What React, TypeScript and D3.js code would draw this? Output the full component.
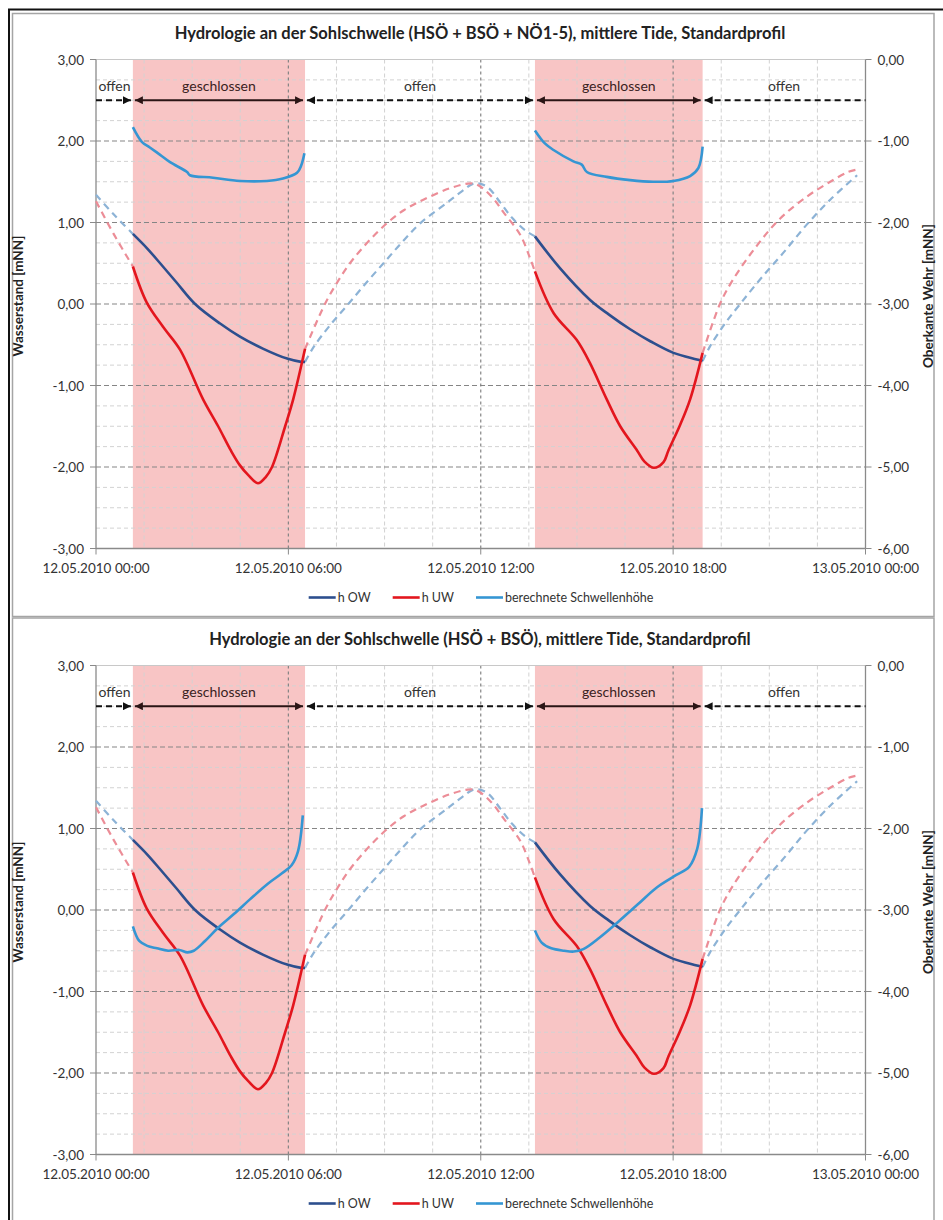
import React, { useEffect, useRef } from 'react';
import * as d3 from 'd3';

// time axis in hours from 12.05.2010 00:00
const hourTicks = [0, 6, 12, 18, 24];
const hourTickLabels = ['12.05.2010 00:00', '12.05.2010 06:00', '12.05.2010 12:00', '12.05.2010 18:00', '13.05.2010 00:00'];
const leftTicks = [3, 2, 1, 0, -1, -2, -3];
const rightTicks = [0, -1, -2, -3, -4, -5, -6];

// phases of the weir (open / closed)
const phaseBounds = [0, 1.15, 6.52, 13.69, 18.92, 24];
const phaseLabels = ['offen', 'geschlossen', 'offen', 'geschlossen', 'offen'];

const seriesNames = ['h OW', 'h UW', 'berechnete Schwellenhöhe'];
const titles = [
  'Hydrologie an der Sohlschwelle (HSÖ + BSÖ + NÖ1-5), mittlere Tide, Standardprofil',
  'Hydrologie an der Sohlschwelle (HSÖ + BSÖ), mittlere Tide, Standardprofil',
];

// water level upstream [hour, mNN]
const hOW = [
  [0, 1.34], [0.55, 1.1], [1.15, 0.86],
  [1.6, 0.68], [2.0, 0.5], [2.5, 0.27], [3.09, 0.0], [3.87, -0.24], [4.49, -0.4], [5.22, -0.55], [5.96, -0.67], [6.4, -0.71], [6.52, -0.71],
  [6.8, -0.52], [7.3, -0.26], [7.87, 0.0], [8.45, 0.27], [9.01, 0.52], [9.55, 0.76], [10.11, 0.99], [10.94, 1.24], [11.4, 1.38], [11.8, 1.48], [12.19, 1.44], [12.6, 1.25], [12.97, 1.06], [13.4, 0.9], [13.69, 0.83],
  [14.47, 0.44], [15.41, 0.05], [16.0, -0.13], [16.66, -0.31], [17.3, -0.46], [18.01, -0.6], [18.74, -0.68], [18.92, -0.7],
  [19.15, -0.52], [19.6, -0.25], [20.09, 0.0], [20.71, 0.3], [21.44, 0.63], [22.18, 0.98], [22.9, 1.28], [23.74, 1.58],
];

// water level downstream [hour, mNN]
const hUW = [
  [0, 1.26], [0.55, 0.86], [1.15, 0.46],
  [1.58, 0.02], [2.09, -0.28], [2.62, -0.56], [3.34, -1.17], [3.81, -1.5], [4.21, -1.8], [4.49, -1.98], [4.75, -2.1], [5.05, -2.2], [5.3, -2.12], [5.49, -2.0], [5.9, -1.5], [6.15, -1.17], [6.52, -0.55],
  [7.14, 0.0], [7.5, 0.25], [7.92, 0.5], [8.5, 0.77], [9.07, 0.99], [9.6, 1.15], [10.21, 1.28], [11.04, 1.42], [11.72, 1.48], [12.03, 1.43], [12.4, 1.29], [12.7, 1.13], [13.23, 0.85], [13.54, 0.56], [13.69, 0.4],
  [14.27, -0.11], [14.99, -0.44], [15.4, -0.72], [15.93, -1.17], [16.35, -1.5], [16.88, -1.8], [17.1, -1.93], [17.4, -2.01], [17.7, -1.94], [17.85, -1.8], [18.2, -1.5], [18.53, -1.17], [18.92, -0.6],
  [19.46, 0.0], [19.87, 0.3], [20.62, 0.72], [21.34, 1.05], [22.18, 1.32], [22.9, 1.5], [23.46, 1.62], [23.74, 1.65],
];

// calculated sill height, right axis [hour, mNN]
const schwelleTop = [
  [1.15, -0.83], [1.43, -1.01], [1.68, -1.08], [2.0, -1.17], [2.31, -1.26], [2.84, -1.38], [2.93, -1.42], [3.65, -1.45], [4.49, -1.49], [5.33, -1.49], [5.83, -1.46], [6.27, -1.39], [6.4, -1.3], [6.5, -1.15],
  [13.69, -0.87], [14.0, -1.03], [14.27, -1.11], [14.89, -1.25], [15.15, -1.29], [15.31, -1.38], [15.93, -1.44], [16.66, -1.48], [17.38, -1.5], [18.01, -1.49], [18.53, -1.43], [18.79, -1.33], [18.92, -1.07],
];
const schwelleBottom = [
  [1.15, -3.2], [1.35, -3.38], [1.6, -3.44], [1.9, -3.47], [2.25, -3.5], [2.6, -3.49], [2.85, -3.52], [3.05, -3.5], [3.4, -3.38], [3.8, -3.22], [4.3, -3.05], [4.8, -2.87], [5.35, -2.68], [5.8, -2.55], [6.1, -2.45], [6.3, -2.28], [6.45, -1.84],
  [13.69, -3.25], [13.9, -3.4], [14.2, -3.47], [14.6, -3.5], [14.9, -3.51], [15.2, -3.48], [15.7, -3.34], [16.3, -3.14], [16.9, -2.93], [17.5, -2.72], [18.1, -2.57], [18.5, -2.47], [18.75, -2.25], [18.9, -1.75],
];

const panels = [
  { title: titles[0], top: 59.5, frameTop: 13.5, frameBottom: 616.5, schwelle: schwelleTop },
  { title: titles[1], top: 665.5, frameTop: 618, frameBottom: 1230, schwelle: schwelleBottom },
];

const FONT = "Lato, 'Open Sans', sans-serif";
const plotH = 489;
const colOW = '#2d4f8e';
const colUW = '#e3161e';
const colSchwelle = '#3596d3';
const colOWdash = '#8db3d6';
const colUWdash = '#ec8d97';

const fmt = d3.formatLocale({ decimal: ',', thousands: '.', grouping: [3], currency: ['', '€'], minus: '-' }).format('.2f');

function drawPanel(svg, p) {
  const g = svg.append('g');
  const x = d3.scaleLinear().domain([0, 24]).range([96, 865.5]);
  const y = d3.scaleLinear().domain([-3, 3]).range([p.top + plotH, p.top]);
  const yR = d3.scaleLinear().domain([-6, 0]).range([p.top + plotH, p.top]);

  // chart area frame
  g.append('rect').attr('x', 12.5).attr('y', p.frameTop).attr('width', 921.5).attr('height', p.frameBottom - p.frameTop)
    .attr('fill', 'white').attr('stroke', '#a5a5a5').attr('stroke-width', 1.5);

  g.append('text').attr('x', 480).attr('y', p.top - 21).attr('text-anchor', 'middle')
    .attr('font-family', FONT).attr('font-weight', 'bold').attr('font-size', 16.5).attr('fill', '#222')
    .text(p.title);

  // closed periods
  const closed = [[phaseBounds[1], phaseBounds[2]], [phaseBounds[3], phaseBounds[4]]];
  g.selectAll('.closed').data(closed).join('rect').attr('class', 'closed')
    .attr('x', d => x(d[0])).attr('width', d => x(d[1]) - x(d[0]))
    .attr('y', y(3)).attr('height', y(-3) - y(3)).attr('fill', '#f8c5c5');

  // grid
  const minorY = d3.range(-3, 3.01, 0.25).filter(v => Math.abs(v - Math.round(v)) > 0.01);
  g.selectAll('.gminy').data(minorY).join('line').attr('class', 'gminy')
    .attr('x1', x(0)).attr('x2', x(24)).attr('y1', d => y(d)).attr('y2', d => y(d))
    .attr('stroke', '#d2d2d2').attr('stroke-dasharray', '4,3').attr('stroke-width', 1);
  const minorX = d3.range(1.5, 24, 1.5).filter(v => v % 6 !== 0);
  g.selectAll('.gminx').data(minorX).join('line').attr('class', 'gminx')
    .attr('x1', d => x(d)).attr('x2', d => x(d)).attr('y1', y(3)).attr('y2', y(-3))
    .attr('stroke', '#d2d2d2').attr('stroke-dasharray', '4,3').attr('stroke-width', 1);
  g.selectAll('.gmajy').data([2, 1, 0, -1, -2]).join('line').attr('class', 'gmajy')
    .attr('x1', x(0)).attr('x2', x(24)).attr('y1', d => y(d)).attr('y2', d => y(d))
    .attr('stroke', '#858585').attr('stroke-dasharray', '5,3').attr('stroke-width', 1.2);
  g.selectAll('.gmajx').data([6, 12, 18]).join('line').attr('class', 'gmajx')
    .attr('x1', d => x(d)).attr('x2', d => x(d)).attr('y1', y(3)).attr('y2', y(-3))
    .attr('stroke', '#858585').attr('stroke-dasharray', '3,3').attr('stroke-width', 1.2);
  g.append('line').attr('x1', x(0)).attr('x2', x(24)).attr('y1', y(3)).attr('y2', y(3)).attr('stroke', '#c8c8c8');

  // axes
  const axisCol = '#8a8a8a';
  g.append('line').attr('x1', x(0)).attr('x2', x(0)).attr('y1', y(3)).attr('y2', y(-3)).attr('stroke', axisCol).attr('stroke-width', 1.3);
  g.append('line').attr('x1', x(24)).attr('x2', x(24)).attr('y1', y(3)).attr('y2', y(-3)).attr('stroke', axisCol).attr('stroke-width', 1.3);
  g.append('line').attr('x1', x(0)).attr('x2', x(24)).attr('y1', y(-3)).attr('y2', y(-3)).attr('stroke', axisCol).attr('stroke-width', 1.3);
  g.selectAll('.tl').data(leftTicks).join('line').attr('class', 'tl')
    .attr('x1', x(0) - 6).attr('x2', x(0)).attr('y1', d => y(d)).attr('y2', d => y(d)).attr('stroke', axisCol);
  g.selectAll('.tr').data(rightTicks).join('line').attr('class', 'tr')
    .attr('x1', x(24)).attr('x2', x(24) + 6).attr('y1', d => yR(d)).attr('y2', d => yR(d)).attr('stroke', axisCol);
  g.selectAll('.tx').data(hourTicks).join('line').attr('class', 'tx')
    .attr('x1', d => x(d)).attr('x2', d => x(d)).attr('y1', y(-3)).attr('y2', y(-3) + 6).attr('stroke', axisCol);

  const tickFont = 13.5;
  g.selectAll('.ll').data(leftTicks).join('text').attr('class', 'll')
    .attr('x', x(0) - 12).attr('y', d => y(d) + 5).attr('text-anchor', 'end')
    .attr('font-family', FONT).attr('font-size', tickFont).attr('fill', '#333').text(d => fmt(d));
  g.selectAll('.lr').data(rightTicks).join('text').attr('class', 'lr')
    .attr('x', x(24) + 12).attr('y', d => yR(d) + 5).attr('text-anchor', 'start')
    .attr('font-family', FONT).attr('font-size', tickFont).attr('fill', '#333').text(d => fmt(d));
  g.selectAll('.lx').data(hourTicks).join('text').attr('class', 'lx')
    .attr('x', d => x(d)).attr('y', y(-3) + 24).attr('text-anchor', 'middle')
    .attr('font-family', FONT).attr('font-size', tickFont).attr('fill', '#333').text((d, i) => hourTickLabels[i]);

  const midY = (y(3) + y(-3)) / 2 - 8;
  g.append('text').attr('transform', `translate(23, ${midY}) rotate(-90)`).attr('text-anchor', 'middle')
    .attr('font-family', FONT).attr('font-weight', 'bold').attr('font-size', 13.5).attr('fill', '#222').text('Wasserstand [mNN]');
  g.append('text').attr('transform', `translate(933, ${midY}) rotate(-90)`).attr('text-anchor', 'middle')
    .attr('font-family', FONT).attr('font-weight', 'bold').attr('font-size', 13.5).attr('fill', '#222').text('Oberkante Wehr [mNN]');

  // series
  const curve = d3.curveCatmullRom.alpha(0.5);
  const line = d3.line().x(d => x(d[0])).y(d => y(d[1])).curve(curve);
  const lineR = d3.line().x(d => x(d[0])).y(d => yR(d[1])).curve(curve);
  const within = (data, a, b) => data.filter(d => d[0] >= a - 1e-6 && d[0] <= b + 1e-6);
  const phases = phaseLabels.map((lab, i) => ({ lab, a: phaseBounds[i], b: phaseBounds[i + 1], closed: lab === 'geschlossen' }));

  phases.filter(ph => !ph.closed).forEach(ph => {
    g.append('path').attr('d', line(within(hOW, ph.a, ph.b))).attr('fill', 'none')
      .attr('stroke', colOWdash).attr('stroke-width', 2.2).attr('stroke-dasharray', '7,5');
    g.append('path').attr('d', line(within(hUW, ph.a, ph.b))).attr('fill', 'none')
      .attr('stroke', colUWdash).attr('stroke-width', 2.2).attr('stroke-dasharray', '7,5');
  });
  phases.filter(ph => ph.closed).forEach(ph => {
    g.append('path').attr('d', line(within(hOW, ph.a, ph.b))).attr('fill', 'none')
      .attr('stroke', colOW).attr('stroke-width', 2.6);
    g.append('path').attr('d', line(within(hUW, ph.a, ph.b))).attr('fill', 'none')
      .attr('stroke', colUW).attr('stroke-width', 2.6);
    g.append('path').attr('d', lineR(within(p.schwelle, ph.a, ph.b))).attr('fill', 'none')
      .attr('stroke', colSchwelle).attr('stroke-width', 2.6);
  });

  // phase annotation arrows
  const ay = y(2.5);
  phases.forEach(ph => {
    const x1 = x(ph.a) + (ph.a > 0 ? 2 : 0);
    const x2 = x(ph.b) - (ph.b < 24 ? 2 : 0);
    const ln = g.append('line').attr('x1', x1).attr('x2', x2).attr('y1', ay).attr('y2', ay)
      .attr('stroke', ph.closed ? '#2b1515' : '#111').attr('stroke-width', 2);
    if (ph.closed) {
      ln.attr('marker-start', 'url(#arrDark)').attr('marker-end', 'url(#arrDark)');
    } else {
      ln.attr('stroke-dasharray', '6,4');
      if (ph.a > 0) ln.attr('marker-start', 'url(#arrBlack)');
      if (ph.b < 24) ln.attr('marker-end', 'url(#arrBlack)');
    }
    g.append('text').attr('x', (x(ph.a) + x(ph.b)) / 2).attr('y', ay - 9).attr('text-anchor', 'middle')
      .attr('font-family', FONT).attr('font-size', 14).attr('fill', ph.closed ? '#3a2222' : '#333').text(ph.lab);
  });

  // legend
  const ly = y(-3) + 49;
  const lg = g.append('g');
  const cols = [colOW, colUW, colSchwelle];
  let cx = 0;
  seriesNames.forEach((name, i) => {
    lg.append('line').attr('x1', cx).attr('x2', cx + 27).attr('y1', ly).attr('y2', ly)
      .attr('stroke', cols[i]).attr('stroke-width', 2.6);
    const t = lg.append('text').attr('x', cx + 29).attr('y', ly + 4.5)
      .attr('font-family', FONT).attr('font-size', 12.5).attr('fill', '#333').text(name);
    const w = t.node().getComputedTextLength();
    cx += 29 + w + 22;
  });
  const total = cx - 22;
  lg.attr('transform', `translate(${481 - total / 2}, 0)`);
}

export default function App() {
  const ref = useRef(null);

  useEffect(() => {
    const svg = d3.select(ref.current);
    svg.selectAll('*').remove();

    const defs = svg.append('defs');
    [['arrDark', '#2b1515'], ['arrBlack', '#111']].forEach(([id, c]) => {
      defs.append('marker').attr('id', id).attr('viewBox', '0 0 10 10').attr('refX', 10).attr('refY', 5)
        .attr('markerWidth', 8).attr('markerHeight', 8).attr('markerUnits', 'userSpaceOnUse')
        .attr('orient', 'auto-start-reverse')
        .append('path').attr('d', 'M0,0 L10,5 L0,10 z').attr('fill', c);
    });

    svg.append('rect').attr('width', 943).attr('height', 1220).attr('fill', 'white');
    panels.forEach(p => drawPanel(svg, p));
    // outer frame
    svg.append('rect').attr('x', 9).attr('y', 9.5).attr('width', 945).attr('height', 1225)
      .attr('fill', 'none').attr('stroke', '#111').attr('stroke-width', 2);
  }, []);

  return (
    <svg ref={ref} width={943} height={1220}
      style={{ position: 'absolute', left: 0, top: 0, display: 'block' }} />
  );
}
